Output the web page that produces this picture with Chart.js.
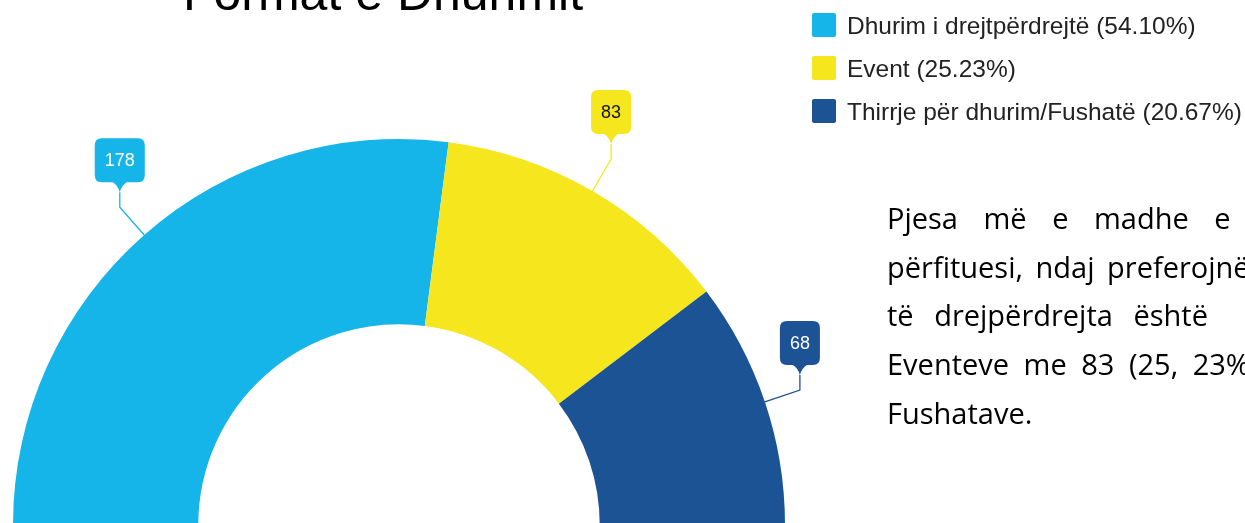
<!DOCTYPE html>
<html>
<head>
<meta charset="utf-8">
<script src="https://cdn.jsdelivr.net/npm/chart.js@4/dist/chart.umd.min.js"></script>
<style>
  html, body { margin: 0; padding: 0; width: 1245px; height: 523px; overflow: hidden; background: #fff; }
  #wrap { position: absolute; left: 0; top: 0; width: 1245px; height: 600px; }
  #title { position: absolute; left: 0; width: 766px; text-align: center; top: -32px;
    font-family: "Liberation Sans", Arial, sans-serif; font-size: 50px; line-height: 50px; color: #000; white-space: nowrap; }
  #legend { position: absolute; left: 812px; top: 13px; font-family: "Liberation Sans", Arial, sans-serif;
    font-size: 24.5px; color: #222; }
  .lg-row { position: relative; height: 43px; white-space: nowrap; }
  .lg-box { position: absolute; left: 0; top: 0; width: 24px; height: 24px; border-radius: 2px; }
  .lg-text { position: absolute; left: 35px; top: -1px; line-height: 28px; }
  .para { position: absolute; left: 887px; font-family: "Open Sans", "Noto Sans", sans-serif; font-size: 29px;
    color: #000; white-space: nowrap; line-height: 40px; }
</style>
</head>
<body>
<div id="title">Format e Dhurimit</div>
<div id="wrap"><canvas id="c"></canvas></div>
<div id="legend"></div>
<div class="para" style="top:198px; word-spacing:18px;">Pjesa më e madhe e</div>
<div class="para" style="top:247px; word-spacing:5px;">përfituesi, ndaj preferojnë</div>
<div class="para" style="top:295px; word-spacing:13px;">të drejpërdrejta është</div>
<div class="para" style="top:344px; word-spacing:7px;">Eventeve me 83 (25, 23%)</div>
<div class="para" style="top:393px;">Fushatave.</div>
<script>
const categories = ['Dhurim i drejtpërdrejtë', 'Event', 'Thirrje për dhurim/Fushatë'];
const values = [178, 83, 68];
const colors = ['#15b4e9', '#f6e61e', '#1b5394'];
const labelTextColors = ['#ffffff', '#111111', '#ffffff'];

const total = values.reduce((a, b) => a + b, 0);
const legendEl = document.getElementById('legend');
categories.forEach((cat, i) => {
  const row = document.createElement('div');
  row.className = 'lg-row';
  const box = document.createElement('div');
  box.className = 'lg-box';
  box.style.background = colors[i];
  const txt = document.createElement('div');
  txt.className = 'lg-text';
  txt.textContent = cat + ' (' + (values[i] / total * 100).toFixed(2) + '%)';
  row.appendChild(box);
  row.appendChild(txt);
  legendEl.appendChild(row);
});

const calloutPlugin = {
  id: 'callout',
  afterDatasetsDraw(chart) {
    const ctx = chart.ctx;
    const meta = chart.getDatasetMeta(0);
    meta.data.forEach((arc, i) => {
      const p = arc.getProps(['x', 'y', 'startAngle', 'endAngle', 'outerRadius'], true);
      const mid = (p.startAngle + p.endAngle) / 2;
      const cos = Math.cos(mid), sin = Math.sin(mid);
      const x0 = p.x + cos * p.outerRadius, y0 = p.y + sin * p.outerRadius;
      const x1 = x0 + cos * 37, y1 = y0 + sin * 37;
      const tipY = y1 - 15;
      ctx.save();
      ctx.strokeStyle = colors[i];
      ctx.lineWidth = 1.3;
      ctx.beginPath();
      ctx.moveTo(x0, y0);
      ctx.lineTo(x1, y1);
      ctx.lineTo(x1, tipY);
      ctx.stroke();
      const text = String(values[i]);
      ctx.font = '18px "Liberation Sans", Arial, sans-serif';
      const tw = ctx.measureText(text).width;
      const w = tw + 20, h = 44, r = 7;
      const bx = x1 - w / 2, by = tipY - 10 - h;
      ctx.fillStyle = colors[i];
      ctx.beginPath();
      ctx.moveTo(bx + r, by);
      ctx.lineTo(bx + w - r, by);
      ctx.quadraticCurveTo(bx + w, by, bx + w, by + r);
      ctx.lineTo(bx + w, by + h - r);
      ctx.quadraticCurveTo(bx + w, by + h, bx + w - r, by + h);
      ctx.lineTo(x1 + 7, by + h);
      ctx.quadraticCurveTo(x1 + 2, by + h + 3, x1, tipY);
      ctx.quadraticCurveTo(x1 - 2, by + h + 3, x1 - 7, by + h);
      ctx.lineTo(bx + r, by + h);
      ctx.quadraticCurveTo(bx, by + h, bx, by + h - r);
      ctx.lineTo(bx, by + r);
      ctx.quadraticCurveTo(bx, by, bx + r, by);
      ctx.closePath();
      ctx.fill();
      ctx.fillStyle = labelTextColors[i];
      ctx.textAlign = 'center';
      ctx.textBaseline = 'middle';
      ctx.fillText(text, x1, by + h / 2 + 1);
      ctx.restore();
    });
  }
};

new Chart(document.getElementById('c'), {
  type: 'doughnut',
  data: {
    labels: categories,
    datasets: [{
      data: values,
      backgroundColor: colors,
      borderWidth: 0,
      hoverOffset: 0
    }]
  },
  options: {
    responsive: true,
    maintainAspectRatio: false,
    animation: false,
    devicePixelRatio: 1,
    rotation: -90,
    circumference: 180,
    cutout: '52%',
    layout: { padding: { left: 13, right: 460, top: 139, bottom: 75 } },
    plugins: {
      legend: { display: false },
      tooltip: { enabled: false },
      title: { display: false }
    }
  },
  plugins: [calloutPlugin]
});
</script>
</body>
</html>
